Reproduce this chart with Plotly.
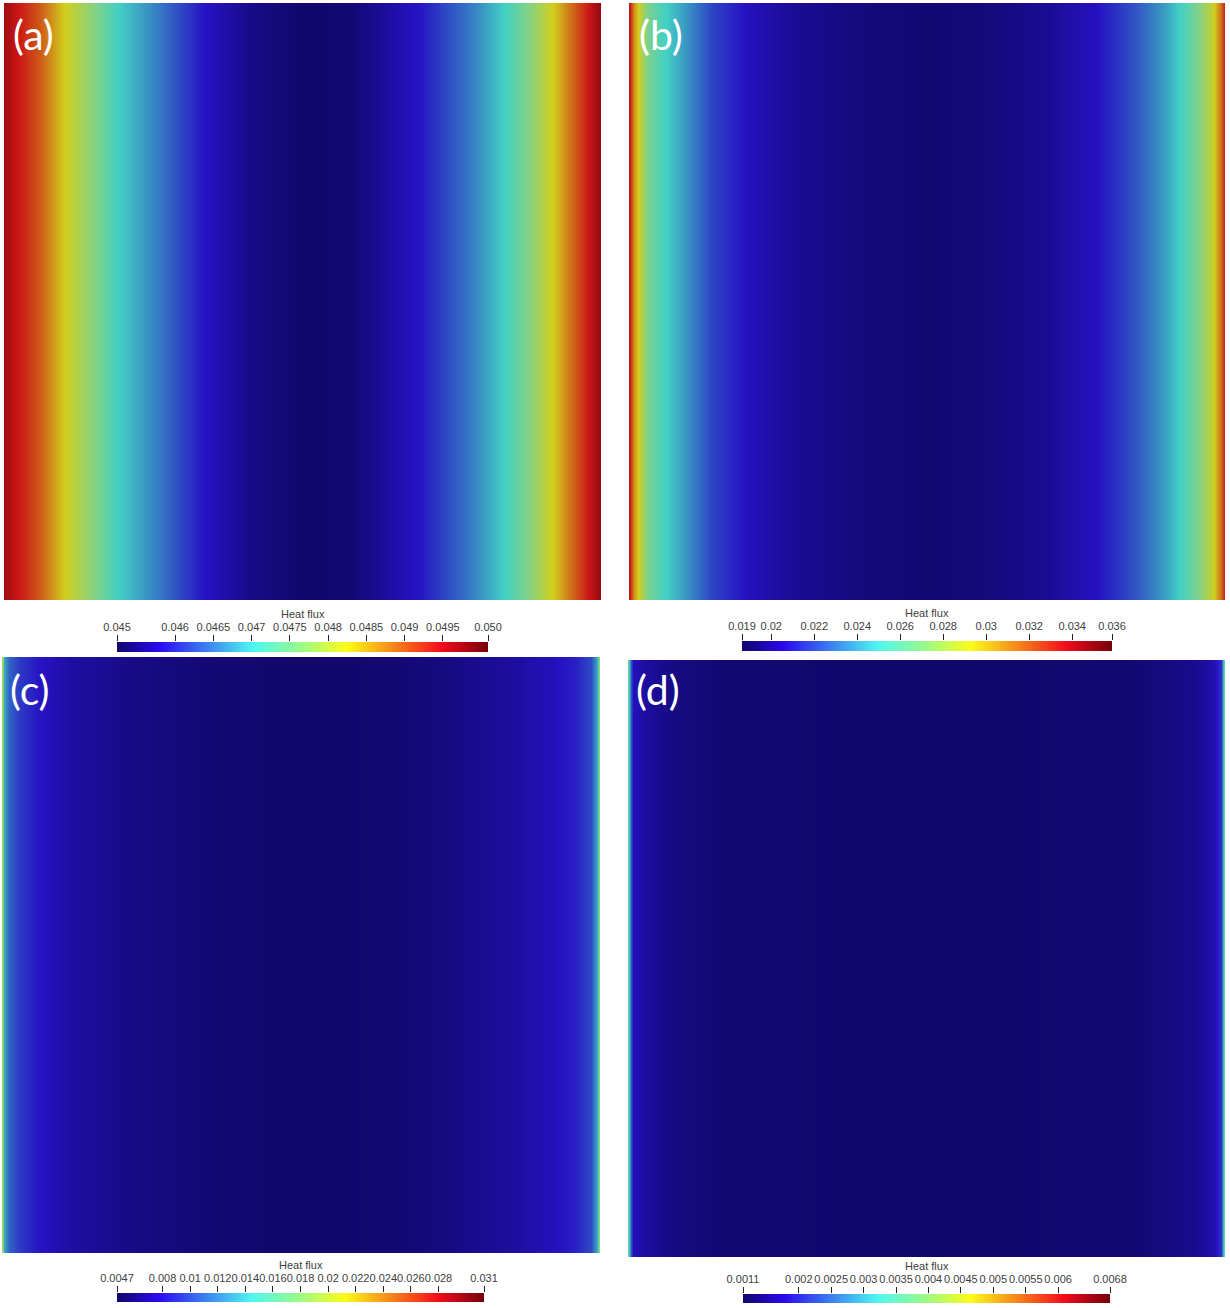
import plotly.graph_objects as go

# ---------------- data ----------------
panel_labels = ["(a)", "(b)", "(c)", "(d)"]
cbar_title = "Heat flux"

# normalized horizontal positions (0 = left edge, 1 = right edge) and heat-flux values
a_pos = [0.0, 0.02, 0.06, 0.10, 0.15, 0.19, 0.26, 0.33, 0.41, 0.50, 0.58, 0.70, 0.78, 0.84, 0.88, 0.92, 0.95, 0.98, 1.0]
a_val = [0.04975, 0.04952, 0.04902, 0.04825, 0.04762, 0.04703, 0.04645, 0.04582, 0.04543, 0.04524, 0.04529,
         0.04582, 0.04645, 0.04703, 0.04762, 0.04825, 0.04888, 0.04950, 0.04985]

b_pos = [0.0, 0.008, 0.017, 0.03, 0.055, 0.09, 0.14, 0.20, 0.28, 0.40, 0.50, 0.60, 0.70, 0.78, 0.85, 0.90, 0.935, 0.96, 0.98, 0.993, 1.0]
b_val = [0.0340, 0.0307, 0.0290, 0.0269, 0.0252, 0.0238, 0.0217, 0.0204, 0.0195, 0.0190, 0.0188, 0.0190, 0.0195,
         0.0204, 0.0221, 0.0238, 0.0255, 0.0273, 0.0290, 0.0316, 0.0338]

c_pos = [0.0, 0.004, 0.012, 0.03, 0.06, 0.10, 0.20, 0.35, 0.50, 0.65, 0.75, 0.85, 0.92, 0.96, 0.985, 0.995, 1.0]
c_val = [0.0200, 0.0130, 0.0105, 0.0090, 0.0078, 0.0068, 0.0057, 0.0050, 0.0047, 0.0049, 0.0055, 0.0064,
         0.0073, 0.0082, 0.0097, 0.0130, 0.0205]

d_pos = [0.0, 0.004, 0.008, 0.03, 0.08, 0.15, 0.30, 0.50, 0.70, 0.85, 0.95, 0.98, 0.993, 0.997, 1.0]
d_val = [0.0037, 0.0026, 0.0017, 0.0015, 0.0013, 0.0012, 0.00117, 0.00114, 0.00117, 0.0012, 0.0014, 0.0016,
         0.0020, 0.0030, 0.0040]

# colour-bar ranges and ticks
a_range = [0.04524, 0.05009]
a_ticks = [0.04524, 0.046, 0.0465, 0.047, 0.0475, 0.048, 0.0485, 0.049, 0.0495, 0.05009]
a_text = ["0.045", "0.046", "0.0465", "0.047", "0.0475", "0.048", "0.0485", "0.049", "0.0495", "0.050"]

b_range = [0.01864, 0.03585]
b_ticks = [0.01864, 0.02, 0.022, 0.024, 0.026, 0.028, 0.03, 0.032, 0.034, 0.03585]
b_text = ["0.019", "0.02", "0.022", "0.024", "0.026", "0.028", "0.03", "0.032", "0.034", "0.036"]

c_range = [0.0047, 0.0313]
c_ticks = [0.0047, 0.008, 0.01, 0.012, 0.014, 0.016, 0.018, 0.02, 0.022, 0.024, 0.026, 0.028, 0.0313]
c_text = ["0.0047", "0.008", "0.01", "0.012", "0.014", "0.016", "0.018", "0.02", "0.022", "0.024", "0.026", "0.028", "0.031"]

d_range = [0.00114, 0.0068]
d_ticks = [0.00114, 0.002, 0.0025, 0.003, 0.0035, 0.004, 0.0045, 0.005, 0.0055, 0.006, 0.0068]
d_text = ["0.0011", "0.002", "0.0025", "0.003", "0.0035", "0.004", "0.0045", "0.005", "0.0055", "0.006", "0.0068"]

# ---------------- style ----------------
W, H = 1230, 1308
# vivid scale for the colour legends
bar_scale = [
    [0.0, "#10076c"],
    [0.111, "#2a08ee"],
    [0.365, "#4ef6f2"],
    [0.492, "#98fb8a"],
    [0.619, "#fcfc18"],
    [0.873, "#f30c1c"],
    [1.0, "#74000a"],
]
# shaded (lit) scale for the rendered surfaces
field_scale = [
    [0.0, "#11076a"],
    [0.111, "#2612c4"],
    [0.365, "#42d0c4"],
    [0.492, "#86d282"],
    [0.619, "#d2cf1c"],
    [0.873, "#cc1616"],
    [1.0, "#6a0008"],
]

# pixel boxes: panel (x0, x1, y0, y1), colour bar (x0, x1, y0, y1)
panels = [
    dict(pos=a_pos, val=a_val, rng=a_range, ticks=a_ticks, text=a_text,
         box=(4, 601, 3, 600), cbar=(117, 488, 642, 652), title_y=614, lab=(33, 35)),
    dict(pos=b_pos, val=b_val, rng=b_range, ticks=b_ticks, text=b_text,
         box=(629, 1225, 3, 600), cbar=(742, 1112, 641, 651), title_y=613, lab=(661, 35)),
    dict(pos=c_pos, val=c_val, rng=c_range, ticks=c_ticks, text=c_text,
         box=(2, 600, 657, 1253), cbar=(117, 484, 1293, 1302), title_y=1265, lab=(30, 690)),
    dict(pos=d_pos, val=d_val, rng=d_range, ticks=d_ticks, text=d_text,
         box=(628, 1225, 660, 1257), cbar=(743, 1110, 1294, 1303), title_y=1266, lab=(658, 690)),
]


def px_x(x):
    return x / W


def px_y(y):
    return 1 - y / H


fig = go.Figure()
layout = dict(
    width=W, height=H, margin=dict(l=0, r=0, t=0, b=0, pad=0, autoexpand=False),
    paper_bgcolor="white", plot_bgcolor="white", showlegend=False,
)
annotations = []
font_small = dict(family="Liberation Sans, Arial", size=11, color="#404040")

for i, p in enumerate(panels):
    n = 2 * i + 1
    m = 2 * i + 2
    xa, ya = f"x{n}", f"y{n}"
    xb, yb = f"x{m}", f"y{m}"
    x0, x1, y0, y1 = p["box"]
    # main field
    fig.add_trace(go.Heatmap(
        x=p["pos"], y=[0, 1], z=[p["val"], p["val"]],
        colorscale=field_scale, zmin=p["rng"][0], zmax=p["rng"][1],
        zsmooth="best", showscale=False, hoverinfo="skip",
        xaxis=xa, yaxis=ya,
    ))
    layout[f"xaxis{n}"] = dict(domain=[px_x(x0), px_x(x1)], range=[0, 1], visible=False,
                               anchor=ya, fixedrange=True, automargin=False)
    layout[f"yaxis{n}"] = dict(domain=[px_y(y1), px_y(y0)], range=[0, 1], visible=False,
                               anchor=xa, fixedrange=True, automargin=False)
    # colour bar
    cx0, cx1, cy0, cy1 = p["cbar"]
    fig.add_trace(go.Heatmap(
        x=p["rng"], y=[0, 1], z=[p["rng"], p["rng"]],
        colorscale=bar_scale, zmin=p["rng"][0], zmax=p["rng"][1],
        zsmooth="best", showscale=False, hoverinfo="skip",
        xaxis=xb, yaxis=yb,
    ))
    layout[f"xaxis{m}"] = dict(
        domain=[px_x(cx0), px_x(cx1)], range=p["rng"], side="top",
        tickvals=p["ticks"], ticktext=p["text"], ticks="outside", ticklen=6,
        tickcolor="#222222", tickwidth=1, showgrid=False, zeroline=False,
        showline=False, tickfont=font_small, tickangle=0,
        anchor=yb, fixedrange=True, automargin=False, ticklabelstandoff=0,
    )
    layout[f"yaxis{m}"] = dict(domain=[px_y(cy1), px_y(cy0)], range=[0, 1], visible=False,
                               anchor=xb, fixedrange=True, automargin=False)
    annotations.append(dict(
        text=cbar_title, x=px_x((cx0 + cx1) / 2), y=px_y(p["title_y"]), xref="paper", yref="paper",
        showarrow=False, xanchor="center", yanchor="middle", font=font_small,
    ))
    annotations.append(dict(
        text=panel_labels[i], x=px_x(p["lab"][0]), y=px_y(p["lab"][1]), xref="paper", yref="paper",
        showarrow=False, xanchor="center", yanchor="middle",
        font=dict(family="Lato, Open Sans", size=41, color="white"),
    ))

layout["annotations"] = annotations
fig.update_layout(**layout)
fig.write_html("out.html")
